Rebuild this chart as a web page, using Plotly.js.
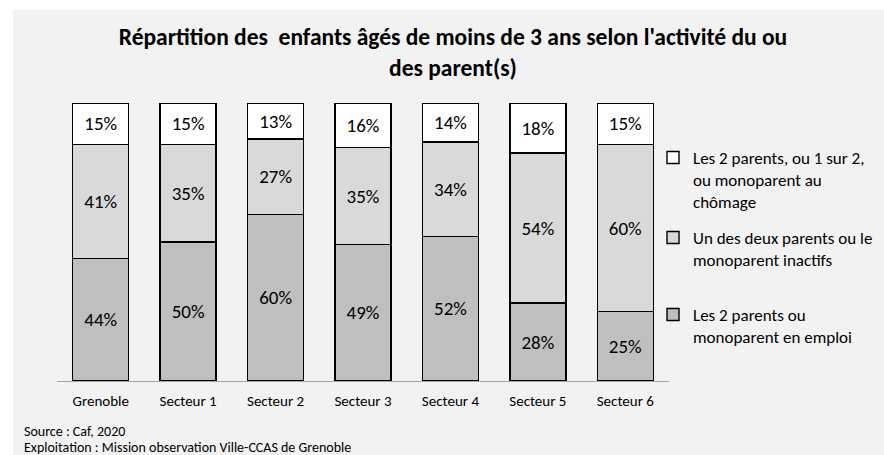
<!DOCTYPE html>
<html>
<head>
<meta charset="utf-8">
<script src="https://cdn.plot.ly/plotly-3.0.1.min.js"></script>
<style>html,body{margin:0;padding:0;background:#fff;}#chart{width:884px;height:455px;}</style>
</head>
<body>
<div id="chart"></div>
<script>
const categories = ["Grenoble", "Secteur 1", "Secteur 2", "Secteur 3", "Secteur 4", "Secteur 5", "Secteur 6"];
const emploi = [44, 50, 60, 49, 52, 28, 25];
const inactifs = [41, 35, 27, 35, 34, 54, 60];
const chomage = [15, 15, 13, 16, 14, 18, 15];
const seriesNames = [
  "Les 2 parents ou<br>monoparent en emploi",
  "Un des deux parents ou le<br>monoparent inactifs",
  "Les 2 parents, ou 1 sur 2,<br>ou monoparent au<br>chômage"
];
const seriesColors = ["#bfbfbf", "#d9d9d9", "#ffffff"];
const titleText = "Répartition des  enfants âgés de moins de 3 ans selon l'activité du ou<br>des parent(s)";
const sourceLines = ["Source : Caf, 2020", "Exploitation : Mission observation Ville-CCAS de Grenoble"];

const FONT = "Carlito, Calibri, 'Noto Sans', sans-serif";
const allSeries = [emploi, inactifs, chomage];
const legendIds = ["legend3", "legend2", "legend"];

const traces = allSeries.map((vals, i) => ({
  type: "bar",
  name: seriesNames[i],
  x: categories,
  y: vals,
  text: vals.map(v => v + "%"),
  texttemplate: "%{text}",
  textposition: "inside",
  insidetextanchor: "middle",
  textangle: 0,
  constraintext: "none",
  insidetextfont: {family: FONT, size: 19, color: "#000"},
  marker: {color: seriesColors[i], line: {color: "#000", width: 1.4}},
  hoverinfo: "skip",
  legend: legendIds[i]
}));

const W = 612, H = 278, L = 57, T = 103;
const px = x => (x - L) / W;
const py = y => (T + H - y) / H;

const legendBase = {
  xanchor: "left", yanchor: "top", bgcolor: "rgba(0,0,0,0)",
  font: {family: FONT, size: 17, color: "#000"}, valign: "top",
  itemclick: false, itemdoubleclick: false
};

const layout = {
  width: 884, height: 455,
  margin: {l: L, r: 884 - L - W, t: T, b: 455 - T - H, autoexpand: false},
  paper_bgcolor: "#ffffff",
  plot_bgcolor: "rgba(0,0,0,0)",
  barmode: "stack",
  bargap: 0.36,
  title: {
    text: titleText,
    font: {family: FONT, size: 23.5, color: "#000", weight: "bold"},
    x: px(453), xref: "paper", xanchor: "center",
    y: 1 - 45 / 455, yref: "container", yanchor: "middle"
  },
  xaxis: {
    showgrid: false, zeroline: false, showline: true, linecolor: "#a6a6a6", linewidth: 1.3,
    ticks: "", ticklabelstandoff: 6, tickfont: {family: FONT, size: 15, color: "#000"}, fixedrange: true
  },
  yaxis: {range: [0, 100], visible: false, fixedrange: true},
  showlegend: true,
  legend: Object.assign({}, legendBase, {x: px(653), y: py(140)}),
  legend2: Object.assign({}, legendBase, {x: px(653), y: py(220)}),
  legend3: Object.assign({}, legendBase, {x: px(653), y: py(297)}),
  shapes: [{
    type: "rect", xref: "paper", yref: "paper", layer: "below",
    x0: px(13), x1: px(884), y0: py(455), y1: py(10),
    fillcolor: "#f2f2f2", line: {width: 0}
  }],
  annotations: sourceLines.map((t, i) => ({
    text: t, xref: "paper", yref: "paper", x: px(22), y: py(431 + i * 16),
    xanchor: "left", yanchor: "middle", showarrow: false,
    font: {family: FONT, size: 14, color: "#000"}
  }))
};

Plotly.newPlot("chart", traces, layout, {displayModeBar: false, staticPlot: true});
</script>
</body>
</html>
